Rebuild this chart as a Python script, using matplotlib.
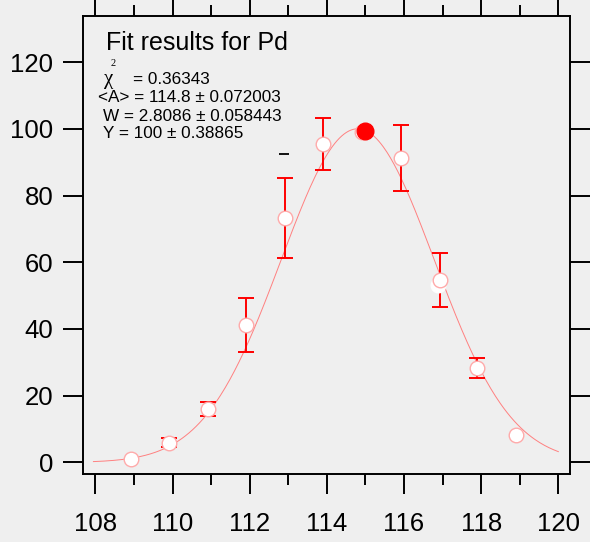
import matplotlib
matplotlib.use('Agg')
import matplotlib.pyplot as plt
import numpy as np

plt.rcParams['font.family'] = ['Liberation Sans', 'DejaVu Sans']

# measured points (hollow markers) with their errors
x_pts = [108.92, 109.92, 110.92, 111.91, 112.91, 113.91, 114.91, 115.91, 116.92, 117.90, 118.90]
y_pts = [1.0, 5.9, 15.9, 41.2, 73.2, 95.4, 99.0, 91.2, 54.7, 28.2, 8.2]
y_err = [0.0, 1.4, 2.1, 8.1, 12.0, 7.9, 0.0, 9.9, 8.0, 3.0, 0.0]

# the highlighted point
x_hi = [115.0]
y_hi = [99.2]

# stray marks from the second set
x_ref = [116.89]
y_ref = [53.2]
x_dash = [112.9]
y_dash = [92.5]

# fit parameters shown in the box
chi2 = 0.36343
A, A_err = 114.8, 0.072003
W, W_err = 2.8086, 0.058443
Y, Y_err = 100, 0.38865

x_ticks = [108, 110, 112, 114, 116, 118, 120]
y_ticks = [0, 20, 40, 60, 80, 100, 120]

bg = '#efefef'
fig = plt.figure(figsize=(5.9, 5.42), dpi=100, facecolor=bg)
ax = fig.add_axes([0.1407, 0.1255, 0.8246, 0.845], facecolor=bg)

# fit curve
xf = np.linspace(107.95, 120.0, 400)
yf = Y * np.exp(-((xf - A) / W) ** 2)
ax.plot(xf, yf, color='#ff8080', lw=0.7, zorder=2)

# error bars (only where there is one)
xe = np.array(x_pts)
ye = np.array(y_pts)
ee = np.array(y_err)
m = ee > 0
ax.errorbar(xe[m], ye[m], yerr=ee[m], fmt='none', ecolor='red', elinewidth=1.4,
            capsize=5.8, capthick=1.4, zorder=3)

ax.plot(x_ref, y_ref, 'o', ms=10.5, mfc='white', mec='white', zorder=3)
ax.plot(x_pts, y_pts, 'o', ms=10.5, mfc='white', mec='#ffaaaa', mew=1.0, zorder=4)
ax.plot(x_hi, y_hi, 'o', ms=12, mfc='red', mec='red', zorder=5)
ax.plot(x_dash, y_dash, '_', ms=6.5, mew=1.3, color='black', zorder=3)

ax.set_xlim(107.68, 120.29)
ax.set_ylim(-3.45, 133.8)
ax.set_xticks(x_ticks)
ax.set_xticks(np.arange(109, 120, 2), minor=True)
ax.set_yticks(y_ticks)

for s in ax.spines.values():
    s.set_linewidth(1.4)

ax.tick_params(axis='both', which='both', direction='out', width=1.4, color='black',
               labelsize=18.5)
ax.tick_params(axis='x', which='major', length=14.4, pad=13, top=True)
ax.tick_params(axis='x', which='minor', length=8, top=True)
ax.tick_params(axis='y', which='major', length=14.4, pad=7, right=True)

# stats box text
fig.text(106 / 590, 1 - 50 / 542, 'Fit results for Pd', fontsize=18, ha='left', va='baseline')
fig.text(104 / 590, 1 - 84 / 542, '\u03c7', fontsize=15, family='Liberation Serif',
         ha='left', va='baseline')
fig.text(110.5 / 590, 1 - 66 / 542, '2', fontsize=7.5, family='Liberation Serif',
         ha='left', va='baseline')
fig.text(132.7 / 590, 1 - 84 / 542, '= %g' % chi2, fontsize=12.3, ha='left', va='baseline')
fig.text(98.3 / 590, 1 - 101.7 / 542, '<A> = %g \u00b1 %g' % (A, A_err), fontsize=12.3,
         ha='left', va='baseline')
fig.text(103.3 / 590, 1 - 120.7 / 542, 'W = %g \u00b1 %g' % (W, W_err), fontsize=12.3,
         ha='left', va='baseline')
fig.text(103.3 / 590, 1 - 138.3 / 542, 'Y = %g \u00b1 %g' % (Y, Y_err), fontsize=12.3,
         ha='left', va='baseline')

fig.savefig('out.png', dpi=100, facecolor=bg)
